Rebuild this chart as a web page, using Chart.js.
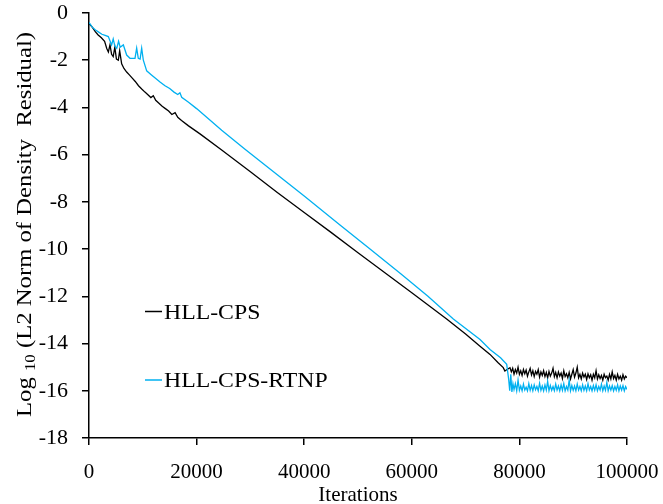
<!DOCTYPE html>
<html>
<head>
<meta charset="utf-8">
<script src="https://cdn.jsdelivr.net/npm/chart.js@4.4.1/dist/chart.umd.min.js"></script>
<style>
  html, body { margin: 0; padding: 0; background: #fff; }
  .chart-wrap { width: 663px; height: 504px; position: relative; }
</style>
</head>
<body>
<div class="chart-wrap"><canvas id="residualChart"></canvas></div>
<script>
const seriesLabels = ["HLL-CPS", "HLL-CPS-RTNP"];
const seriesColors = ["#000000", "#00b0f0"];

const xTickValues = [0, 20000, 40000, 60000, 80000, 100000];
const yTickValues = [0, -2, -4, -6, -8, -10, -12, -14, -16, -18];

// HLL-CPS
const hllIter = [
  0, 600, 1200, 1700, 2300, 2900, 3300, 3600, 3900, 4200, 4500, 4800, 5100, 5450, 5700,
  6070, 6500, 7000, 7500, 8000, 8600, 9200, 9800, 10400, 11000, 11500, 11950, 12400,
  13000, 13600, 14200, 14800, 15400, 16000, 16500, 17200, 18500, 20630, 24660, 30000,
  35000, 40000, 44800, 50000, 55000, 60000, 66480, 70000, 72680, 74540, 76000, 77000,
  77300, 77700, 78250,
  78500, 78750, 79000, 79250, 79500, 79750, 80000, 80250, 80500, 80750, 81000, 81250,
  81500, 81750, 82000, 82250, 82500, 82750, 83000, 83250, 83500, 83750, 84000, 84250,
  84500, 84750, 85000, 85250, 85500, 85750, 86000, 86250, 86500, 86750, 87000, 87250,
  87500, 87750, 88000, 88250, 88500, 88750, 89000, 89250, 89500, 89750, 90000, 90250,
  90500, 90750, 91000, 91250, 91500, 91750, 92000, 92250, 92500, 92750, 93000, 93250,
  93500, 93750, 94000, 94250, 94500, 94750, 95000, 95250, 95500, 95750, 96000, 96250,
  96500, 96750, 97000, 97250, 97500, 97750, 98000, 98250, 98500, 98750, 99000, 99250,
  99500, 99750, 100000
];
const hllResidual = [
  -0.45, -0.6, -0.8, -0.93, -1.05, -1.2, -1.5, -1.65, -1.35, -1.75, -1.85, -1.45, -1.95, -2.0, -1.6,
  -2.15, -2.35, -2.5, -2.62, -2.75, -2.9, -3.08, -3.22, -3.35, -3.47, -3.58, -3.5, -3.7,
  -3.82, -3.95, -4.05, -4.15, -4.3, -4.22, -4.42, -4.55, -4.78, -5.12, -5.8, -6.72,
  -7.6, -8.45, -9.26, -10.15, -11.0, -11.85, -12.96, -13.6, -14.11, -14.46, -14.8, -15.02,
  -15.16, -15.1, -15.02,
  -15.2, -15.05, -15.3, -15.1, -15.25, -15.0, -15.3, -15.15, -15.35, -15.1, -15.28, -15.12,
  -15.38, -15.2, -15.05, -15.33, -15.15, -15.4, -15.18, -15.3, -15.1, -15.42, -15.2, -15.35,
  -15.15, -15.4, -15.22, -15.45, -15.18, -15.38, -15.25, -15.05, -15.4, -15.22, -15.45, -15.2,
  -15.38, -15.25, -15.48, -15.15, -15.4, -15.28, -15.45, -15.22, -15.5, -15.3, -15.1, -15.42,
  -15.25, -15.0, -15.45, -15.3, -15.5, -15.25, -15.42, -15.3, -15.52, -15.28, -15.45, -15.32,
  -15.55, -15.3, -15.45, -15.15, -15.5, -15.32, -15.48, -15.35, -15.55, -15.3, -15.45, -15.38,
  -15.55, -15.3, -15.5, -15.2, -15.48, -15.35, -15.55, -15.3, -15.5, -15.38, -15.55, -15.32,
  -15.5, -15.38, -15.45
];

// HLL-CPS-RTNP
const rtnpIter = [
  0, 600, 1200, 1730, 2400, 3000, 3590, 4200, 4500, 4800, 5150, 5500, 5800, 6380, 7000,
  7620, 8550, 8860, 9160, 9500, 9790, 10100, 10720, 11500, 12300, 13200, 14130, 15000,
  15800, 16500, 16900, 17230, 18500, 20000, 24660, 29000, 35000, 40000, 46650, 52000,
  58000, 63000, 67720, 72680, 74540, 76500, 77640, 78000, 78200, 78400, 78600, 78800,
  79000, 79250, 79500, 79750, 80000, 80250, 80500, 80750, 81000, 81250, 81500, 81750,
  82000, 82250, 82500, 82750, 83000, 83250, 83500, 83750, 84000, 84250, 84500, 84750,
  85000, 85250, 85500, 85750, 86000, 86250, 86500, 86750, 87000, 87250, 87500, 87750,
  88000, 88250, 88500, 88750, 89000, 89250, 89500, 89750, 90000, 90250, 90500, 90750,
  91000, 91250, 91500, 91750, 92000, 92250, 92500, 92750, 93000, 93250, 93500, 93750,
  94000, 94250, 94500, 94750, 95000, 95250, 95500, 95750, 96000, 96250, 96500, 96750,
  97000, 97250, 97500, 97750, 98000, 98250, 98500, 98750, 99000, 99250, 99500, 99750,
  100000
];
const rtnpResidual = [
  -0.4, -0.6, -0.72, -0.8, -0.9, -0.95, -1.0, -1.35, -1.1, -1.4, -1.5, -1.2, -1.45, -1.35, -1.78,
  -1.92, -1.92, -1.49, -1.92, -1.95, -1.49, -2.0, -2.45, -2.6, -2.75, -2.92, -3.08, -3.2,
  -3.35, -3.45, -3.38, -3.57, -3.78, -4.05, -4.97, -5.77, -6.85, -7.75, -8.98, -9.95,
  -11.05, -12.0, -12.96, -13.83, -14.25, -14.6, -14.88, -15.5, -16.0, -15.3, -16.05, -15.7,
  -15.95, -15.7, -16.0, -15.55, -15.98, -15.8, -16.0, -15.72, -15.97, -15.85, -16.0, -15.7,
  -15.98, -15.78, -16.0, -15.75, -15.96, -15.82, -16.0, -15.68, -15.98, -15.8, -16.0, -15.75,
  -15.97, -15.6, -16.0, -15.78, -15.98, -15.82, -16.0, -15.72, -15.97, -15.8, -16.0, -15.75,
  -15.98, -15.7, -16.0, -15.82, -15.97, -15.55, -16.0, -15.78, -15.98, -15.8, -16.0, -15.72,
  -15.97, -15.82, -16.0, -15.75, -15.98, -15.8, -16.0, -15.7, -15.97, -15.82, -16.0, -15.78,
  -15.98, -15.75, -16.0, -15.82, -15.97, -15.72, -16.0, -15.8, -15.98, -15.65, -16.0, -15.8,
  -15.97, -15.78, -16.0, -15.82, -15.98, -15.75, -16.0, -15.8, -15.97, -15.78, -16.0, -15.82,
  -15.95
];

const FONT = "'Liberation Serif', 'Times New Roman', serif";

const toPoints = (xs, ys) => xs.map((x, i) => ({ x: x, y: ys[i] }));

// legend drawn inside the plot, like the original
const innerLegend = {
  id: "innerLegend",
  afterDraw(chart) {
    const ctx = chart.ctx;
    const rows = [311.5, 380];
    ctx.save();
    ctx.font = "22px " + FONT;
    ctx.textBaseline = "alphabetic";
    ctx.fillStyle = "#000";
    chart.data.datasets.forEach((ds, i) => {
      const y = rows[i];
      ctx.strokeStyle = ds.borderColor;
      ctx.lineWidth = 1.5;
      ctx.beginPath();
      ctx.moveTo(145, y);
      ctx.lineTo(162, y);
      ctx.stroke();
      ctx.save();
      ctx.translate(164, y + 7);
      ctx.scale(1.08, 1);
      ctx.fillText(ds.label, 0, 0);
      ctx.restore();
    });
    ctx.restore();
  },
};

// y title with subscript "10"
const yTitle = {
  id: "yTitle",
  afterDraw(chart) {
    const ctx = chart.ctx;
    const area = chart.chartArea;
    const head = "Log ";
    const sub = "10";
    const tail = " (L2 Norm of Density  Residual)";
    ctx.save();
    ctx.font = "22px " + FONT;
    const wHead = ctx.measureText(head).width;
    const wTail = ctx.measureText(tail).width;
    ctx.font = "15px " + FONT;
    const wSub = ctx.measureText(sub).width;
    const total = wHead + wSub + wTail;
    const target = 385;
    const sx = target / total;
    const cy = (area.top + area.bottom) / 2 - 1;
    ctx.translate(31, cy + target / 2);
    ctx.rotate(-Math.PI / 2);
    ctx.scale(sx, 1);
    ctx.fillStyle = "#000";
    ctx.textBaseline = "alphabetic";
    ctx.font = "22px " + FONT;
    ctx.fillText(head, 0, 0);
    ctx.font = "15px " + FONT;
    ctx.fillText(sub, wHead, 4);
    ctx.font = "22px " + FONT;
    ctx.fillText(tail, wHead + wSub, 0);
    ctx.restore();
  },
};

new Chart(document.getElementById("residualChart"), {
  type: "scatter",
  data: {
    datasets: [
      {
        label: seriesLabels[0],
        data: toPoints(hllIter, hllResidual),
        borderColor: seriesColors[0],
        backgroundColor: seriesColors[0],
        showLine: true,
        borderWidth: 1.3,
        pointRadius: 0,
        tension: 0,
        order: 1,
      },
      {
        label: seriesLabels[1],
        data: toPoints(rtnpIter, rtnpResidual),
        borderColor: seriesColors[1],
        backgroundColor: seriesColors[1],
        showLine: true,
        borderWidth: 1.3,
        pointRadius: 0,
        tension: 0,
        order: 0,
      },
    ],
  },
  options: {
    responsive: true,
    maintainAspectRatio: false,
    animation: false,
    layout: {
      padding: 0,
    },
    scales: {
      x: {
        type: "linear",
        min: 0,
        max: 100000,
        afterBuildTicks(scale) {
          scale.ticks = xTickValues.map((v) => ({ value: v }));
        },
        afterFit(scale) {
          scale.height = 66;
          scale.paddingLeft = 0;
          scale.paddingRight = 36;
        },
        grid: {
          drawOnChartArea: false,
          drawTicks: true,
          tickLength: 7,
          color: "#000",
          lineWidth: 1.5,
        },
        border: { display: true, color: "#000", width: 1.5 },
        ticks: {
          color: "#000",
          padding: 15,
          maxRotation: 0,
          autoSkip: false,
          font: { family: FONT, size: 21 },
          callback: (v) => String(v),
        },
        title: {
          display: true,
          text: "Iterations",
          color: "#000",
          font: { family: FONT, size: 21, lineHeight: 1 },
          padding: { top: 0, bottom: -2 },
        },
      },
      y: {
        type: "linear",
        min: -18,
        max: 0,
        afterBuildTicks(scale) {
          scale.ticks = yTickValues.map((v) => ({ value: v }));
        },
        afterFit(scale) {
          scale.width = 89;
          scale.paddingTop = 13;
          scale.paddingBottom = 0;
        },
        grid: {
          drawOnChartArea: false,
          drawTicks: true,
          tickLength: 7,
          color: "#000",
          lineWidth: 1.5,
        },
        border: { display: true, color: "#000", width: 1.5 },
        ticks: {
          color: "#000",
          padding: 14,
          autoSkip: false,
          font: { family: FONT, size: 22 },
          callback: (v) => String(v),
        },
      },
    },
    plugins: {
      legend: { display: false },
      tooltip: { enabled: false },
    },
  },
  plugins: [innerLegend, yTitle],
});
</script>
</body>
</html>
